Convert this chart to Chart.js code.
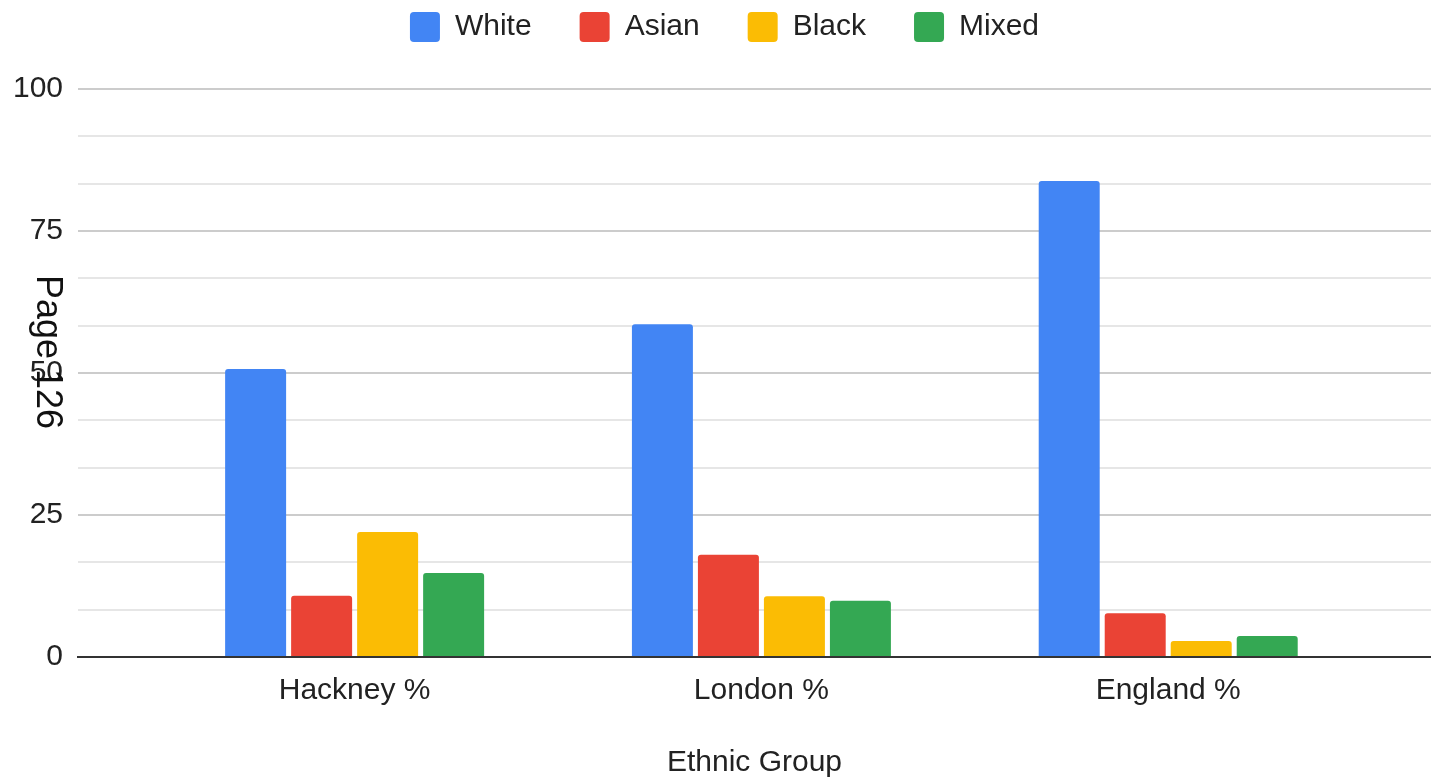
<html>
<head>
  <title>Ethnic Group</title>
  <script src="https://cdn.jsdelivr.net/npm/chart.js@4.4.1/dist/chart.umd.min.js"></script>
  <style>
  body { margin: 0; background: #fff; }
  #wrap { width: 1431px; height: 778px; position: relative; }
  </style>
</head>
<body>
  <div id="wrap"><canvas id="bar-chart"></canvas></div>

  <script>
    // data
    var categories = ['Hackney %', 'London %', 'England %'];
    var seriesNames = ['White', 'Asian', 'Black', 'Mixed'];
    var white = [50.7, 58.6, 83.8];
    var asian = [10.8, 18.0, 7.7];
    var black = [22.0, 10.7, 2.8];
    var mixed = [14.8, 9.9, 3.7];
    var yTickLabels = [0, 25, 50, 75, 100];

    var colours = ['#4285F4', '#EA4335', '#FBBC04', '#34A853'];
    var font = "'Liberation Sans', Arial, sans-serif";

    function points(arr) {
      return arr.map(function (v, i) { return {x: i + 1, y: v}; });
    }

    var datasets = [white, asian, black, mixed].map(function (arr, i) {
      return {
        label: seriesNames[i],
        data: points(arr),
        backgroundColor: colours[i],
        borderWidth: 0,
        borderRadius: 3,
        borderSkipped: 'bottom',
        categoryPercentage: 0.649,
        barPercentage: 0.924
      };
    });

    // y grid: each 25 step split in 3 light lines
    var yGrid = [];
    for (var k = 0; k < yTickLabels.length - 1; k++) {
      var step = (yTickLabels[k + 1] - yTickLabels[k]) / 3;
      for (var j = 0; j < 3; j++) yGrid.push(yTickLabels[k] + step * j);
    }
    yGrid.push(yTickLabels[yTickLabels.length - 1]);

    function isMajor(v) {
      return yTickLabels.some(function (t) { return Math.abs(t - v) < 1e-6; });
    }

    // legend needs a taller box than chart.js gives it
    var legendSpace = {
      id: 'legendSpace',
      beforeInit: function (chart) {
        var fit = chart.legend.fit;
        chart.legend.fit = function () {
          fit.bind(chart.legend)();
          this.height = 125;
        };
      },
      afterLayout: function (chart) {
        chart.legend.left += 18;
      }
    };

    // stray "Page 126" text over the y axis
    var pageText = {
      id: 'pageText',
      afterDraw: function (chart) {
        var ctx = chart.ctx;
        ctx.save();
        ctx.translate(37, 275);
        ctx.rotate(Math.PI / 2);
        ctx.font = "36px " + font;
        ctx.fillStyle = '#111';
        ctx.textBaseline = 'alphabetic';
        ctx.textAlign = 'left';
        ctx.fillText('Page 126', 0, 0);
        ctx.restore();
      }
    };

    new Chart(document.getElementById('bar-chart'), {
      type: 'bar',
      data: { datasets: datasets },
      plugins: [legendSpace, pageText],
      options: {
        responsive: true,
        maintainAspectRatio: false,
        animation: false,
        layout: { padding: { top: -36, left: 0, right: 0, bottom: 0 } },
        plugins: {
          tooltip: { enabled: false },
          legend: {
            position: 'top',
            labels: {
              boxWidth: 30,
              boxHeight: 30,
              useBorderRadius: true,
              borderRadius: 4,
              padding: 48,
              color: '#222',
              font: { family: font, size: 30 }
            }
          }
        },
        scales: {
          x: {
            type: 'linear',
            min: 0.320,
            max: 3.646,
            offset: false,
            grid: { display: false, offset: false },
            border: { display: true, color: '#333', width: 2 },
            afterBuildTicks: function (scale) {
              scale.ticks = categories.map(function (c, i) { return {value: i + 1}; });
            },
            afterFit: function (scale) { scale.height = 121; },
            ticks: {
              autoSkip: false,
              maxRotation: 0,
              padding: 8,
              color: '#222',
              font: { family: font, size: 30 },
              callback: function (v) { return categories[Math.round(v) - 1]; }
            },
            title: {
              display: true,
              text: 'Ethnic Group',
              color: '#222',
              padding: { top: 0, bottom: 0 },
              font: { family: font, size: 30, lineHeight: 1 }
            }
          },
          y: {
            min: 0,
            max: 100,
            afterBuildTicks: function (scale) {
              scale.ticks = yGrid.map(function (v) { return {value: v}; });
            },
            afterFit: function (scale) { scale.width = 78; },
            border: { display: false },
            grid: {
              drawTicks: false,
              lineWidth: 2,
              color: function (ctx) {
                var v = ctx.tick ? ctx.tick.value : 0;
                if (Math.abs(v) < 1e-6) return '#333';
                return isMajor(v) ? '#cccccc' : '#e6e6e6';
              }
            },
            ticks: {
              padding: 15,
              color: '#222',
              font: { family: font, size: 30 },
              callback: function (v) { return isMajor(v) ? Math.round(v) : ''; }
            }
          }
        }
      }
    });
  </script>
</body>
</html>
